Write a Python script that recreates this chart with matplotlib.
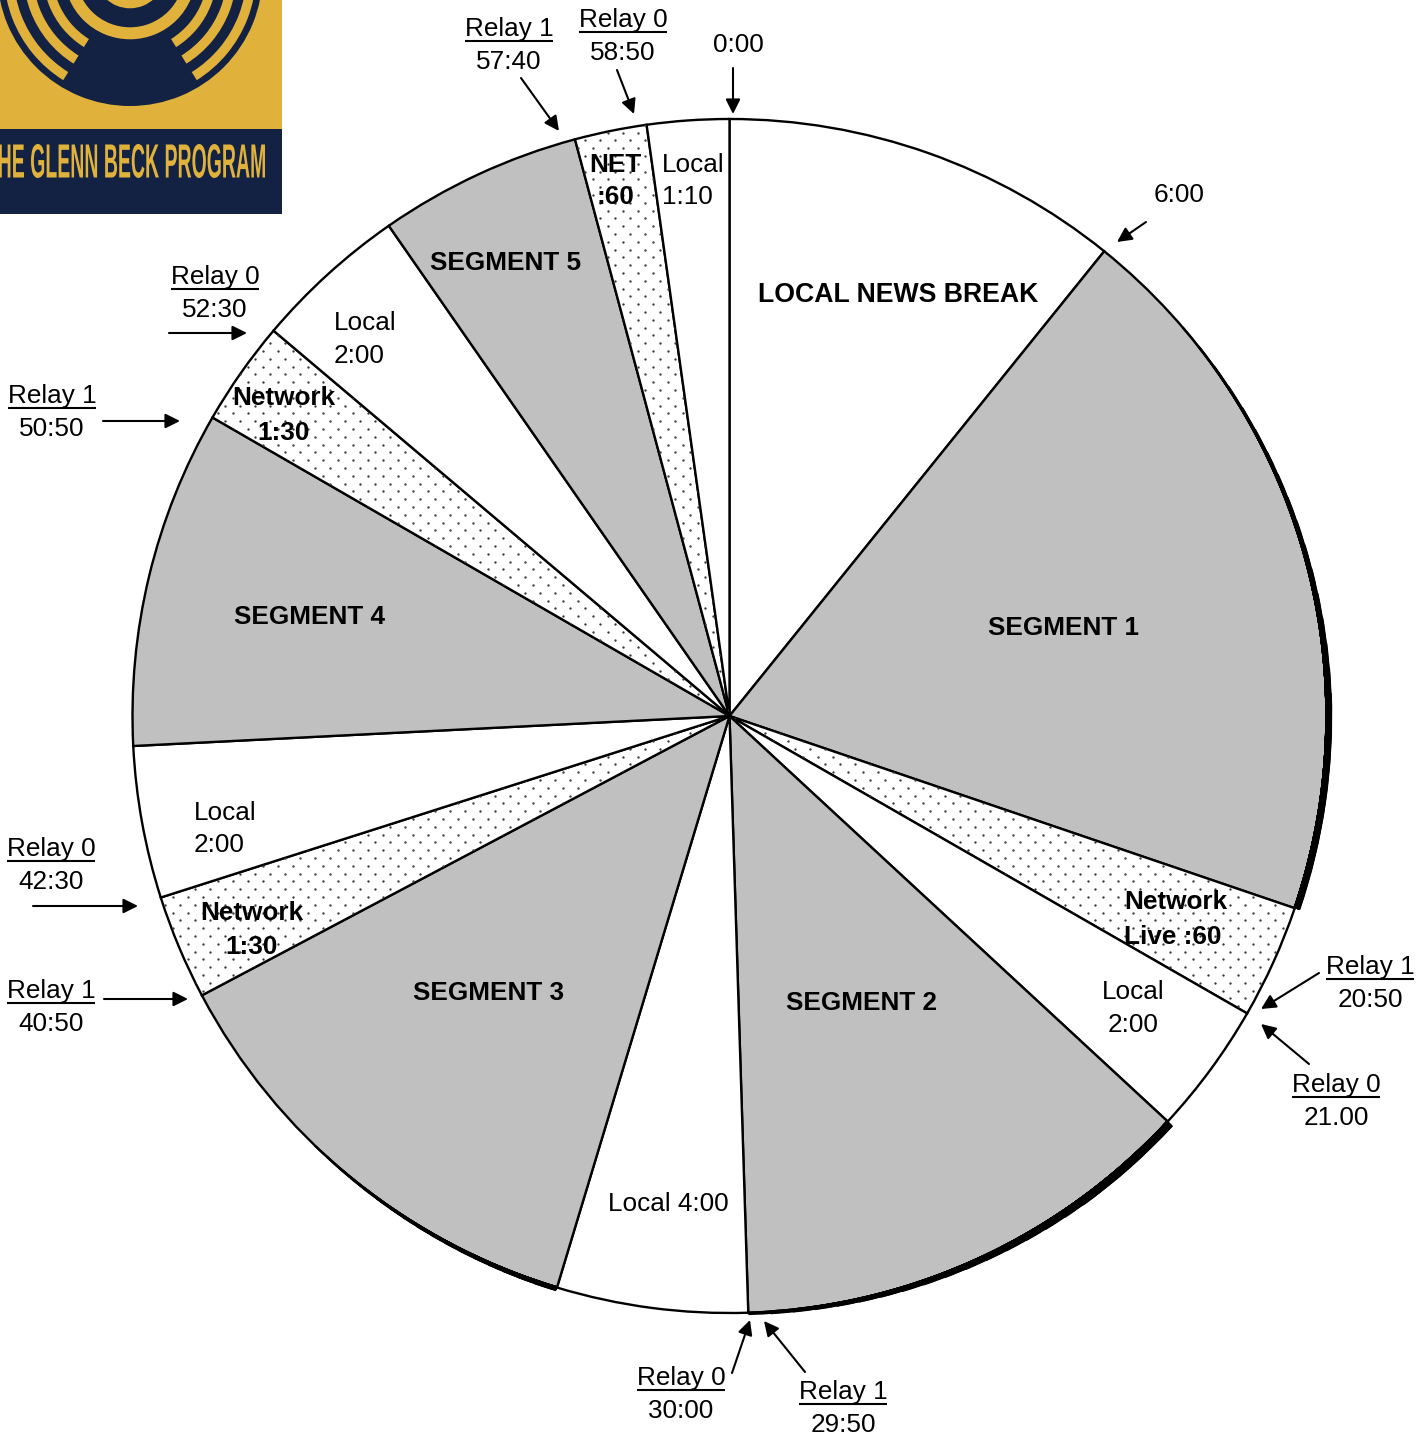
import numpy as np
import matplotlib
matplotlib.use('Agg')
import matplotlib.pyplot as plt
from matplotlib.patches import Rectangle, Wedge, Arc, PathPatch
from matplotlib.textpath import TextPath
from matplotlib.font_manager import FontProperties
from matplotlib.transforms import Affine2D

plt.rcParams['font.family'] = ['Liberation Sans', 'DejaVu Sans']

# ---------------- data ----------------
segment_labels = ['LOCAL NEWS BREAK', 'SEGMENT 1', 'Network\nLive :60', 'Local\n2:00',
                  'SEGMENT 2', 'Local 4:00', 'SEGMENT 3', 'Network\n1:30', 'Local\n2:00',
                  'SEGMENT 4', 'Network\n1:30', 'Local\n2:00', 'SEGMENT 5', 'NET\n:60',
                  'Local\n1:10']
segment_minutes = [6.48, 11.65, 1.85, 2.15, 7.57, 3.10, 7.55, 1.70, 2.47, 5.48,
                   1.70, 2.50, 3.30, 1.17, 1.33]
segment_kinds = ['local', 'segment', 'network', 'local', 'segment', 'local', 'segment',
                 'network', 'local', 'segment', 'network', 'local', 'segment', 'network',
                 'local']
relay_titles = ['Relay 1', 'Relay 0', 'Relay 0', 'Relay 1', 'Relay 0', 'Relay 1',
                'Relay 0', 'Relay 1', 'Relay 1', 'Relay 0']
relay_times = ['57:40', '58:50', '52:30', '50:50', '42:30', '40:50',
               '30:00', '29:50', '20:50', '21.00']
plain_marks = ['0:00', '6:00']
logo_text = 'HE GLENN BECK PROGRAM'

# ---------------- layout / style ----------------
W, H = 1428, 1435
CX, CY, R = 729.5, 716, 597
FS = 18.8
kind_color = {'local': 'white', 'segment': '#c0c0c0', 'network': 'white'}

# per-slice label placement: (x, [y per line], ha, bold, size)
label_layout = [
    (898, [293], 'center', True, 19.2),
    (1064, [626], 'center', True, FS),
    (1124, [900, 935], 'left', True, FS),
    (1133, [990, 1023], 'center', False, FS),
    (861, [1001], 'center', True, FS),
    (668, [1202], 'center', False, FS),
    (489, [991], 'center', True, FS),
    (252, [911, 945], 'center', True, FS),
    (194, [811, 843], 'left', False, FS),
    (310, [615], 'center', True, FS),
    (284, [396, 431], 'center', True, FS),
    (334, [321, 354], 'left', False, FS),
    (506, [261], 'center', True, FS),
    (615, [163, 195], 'center', True, FS),
    (662, [163, 195], 'left', False, FS),
]

# relay label placement: (x centre, title centre y, arrow start, arrow end)
relay_layout = [
    (509, 28, (521, 78), (559, 131)),
    (623, 19, (617, 70), (634, 114)),
    (215, 276, (169, 333), (247, 333)),
    (52, 395, (103, 421), (180, 421)),
    (51, 848, (33, 906), (138, 906)),
    (51, 990, (104, 999), (188, 999)),
    (681, 1377, (732, 1373), (750, 1320)),
    (843, 1391, (805, 1372), (764, 1321)),
    (1370, 966, (1319, 973), (1261, 1009)),
    (1336, 1084, (1309, 1064), (1261, 1024)),
]
plain_layout = [
    (738, 44, (733, 68), (733, 114)),
    (1179, 194, (1146, 222), (1117, 242)),
]

# tapered thick rims: (slice index, thin frac, full frac, thick end frac, lw thin, lw full)
rims = [
    (1, 0.15, 0.70, 1.0, 1.6, 5.0),
    (4, 1.00, 0.25, 0.0, 2.6, 6.0),
    (6, 0.60, 0.05, 0.0, 1.6, 3.6),
]

fig = plt.figure(figsize=(W / 100, H / 100), dpi=100)
ax = fig.add_axes([0, 0, 1, 1])

wedges, _ = ax.pie(segment_minutes, startangle=-90, counterclock=True,
                   center=(CX, CY), radius=R, frame=True,
                   colors=[kind_color[k] for k in segment_kinds],
                   wedgeprops=dict(edgecolor='black', linewidth=1.7))

ax.set_xlim(0, W)
ax.set_ylim(H, 0)
ax.set_aspect('auto')
ax.axis('off')

# dotted fill for network slices (staggered dot grid clipped to wedge)
dx, dy = 15.0, 7.8
rows = np.arange(0, H + dy, dy)
gx, gy = [], []
for i, yv in enumerate(rows):
    xs = np.arange(0, W + dx, dx) + (dx / 2 if i % 2 else 0)
    gx.append(xs)
    gy.append(np.full_like(xs, yv))
gx = np.concatenate(gx)
gy = np.concatenate(gy)
for w, k in zip(wedges, segment_kinds):
    if k == 'network':
        ln, = ax.plot(gx, gy, ls='none', marker='o', ms=1.7, mew=0,
                      color='#3a3a3a', zorder=2)
        ln.set_clip_path(w)

bounds = np.concatenate([[0], np.cumsum(segment_minutes)])


def ang(m):
    return -90 + 6 * m


def rim_arc(m0, m1, lw):
    a0, a1 = sorted([ang(m0), ang(m1)])
    off = max(lw * 100 / 72 / 2 - 1.2, 0)
    ax.add_patch(Arc((CX, CY), 2 * (R + off), 2 * (R + off), theta1=a0, theta2=a1,
                     lw=lw, color='black', capstyle='butt', zorder=5))


N = 16
for idx, f_thin, f_full, f_end, lw0, lw1 in rims:
    m_end = bounds[idx] + f_end * segment_minutes[idx]
    for k in range(N + 1):
        f = f_thin + (f_full - f_thin) * k / N
        m = bounds[idx] + f * segment_minutes[idx]
        rim_arc(m, m_end, lw0 + (lw1 - lw0) * k / N)

# slice labels
for text, (x, ys, ha, bold, fs) in zip(segment_labels, label_layout):
    for line, y in zip(text.split('\n'), ys):
        ax.text(x, y + 9, line, ha=ha, va='baseline', fontsize=fs,
                fontweight='bold' if bold else 'normal', color='black', zorder=6)

arrowprops = dict(arrowstyle='-|>', color='black', lw=1.5, mutation_scale=22,
                  shrinkA=0, shrinkB=0)

title_texts = []
for title, tm, (x, y, a0, a1) in zip(relay_titles, relay_times, relay_layout):
    t = ax.text(x, y + 8, title, ha='center', va='baseline', fontsize=FS)
    title_texts.append(t)
    ax.text(x, y + 41, tm, ha='center', va='baseline', fontsize=FS)
    ax.annotate('', xy=a1, xytext=a0, arrowprops=arrowprops)

for txt, (x, y, a0, a1) in zip(plain_marks, plain_layout):
    ax.text(x, y + 8, txt, ha='center', va='baseline', fontsize=FS)
    ax.annotate('', xy=a1, xytext=a0, arrowprops=arrowprops)

# underline relay titles
fig.canvas.draw()
renderer = fig.canvas.get_renderer()
inv = ax.transData.inverted()
for t in title_texts:
    bb = t.get_window_extent(renderer)
    (x0, _), (x1, _) = inv.transform([(bb.x0, bb.y0), (bb.x1, bb.y1)])
    yb = t.get_position()[1] + 4.5
    ax.plot([x0, x1], [yb, yb], color='black', lw=1.5, solid_capstyle='butt')

# ---------------- logo ----------------
yellow = '#E0B23C'
navy = '#132142'
ax.add_patch(Rectangle((0, 0), 282, 129, color=yellow, lw=0, zorder=8))
ax.add_patch(Rectangle((0, 129), 282, 85, color=navy, lw=0, zorder=8))
lc = (130, -26.7)
ax.add_patch(Wedge(lc, 132.7, 0, 360, color=navy, lw=0, zorder=9))
for r in [126.0, 106.5, 87.0]:
    ax.add_patch(Wedge(lc, r, 122, 418, width=9.5, color=yellow, lw=0, zorder=10))
ax.add_patch(Wedge(lc, 66, 0, 360, width=12, color=yellow, lw=0, zorder=10))
ax.add_patch(Wedge(lc, 35, 0, 360, color=yellow, lw=0, zorder=10))

fp = FontProperties(family='Liberation Sans', weight='bold')
tp = TextPath((0, 0), logo_text, size=1, prop=fp)
ext = tp.get_extents()
sx = 266 / ext.width
sy = 33.5 / ext.y1
tr = Affine2D().translate(-ext.x0, 0).scale(sx, -sy).translate(-1, 177.5)
ax.add_patch(PathPatch(tr.transform_path(tp), color=yellow, lw=0, zorder=11))

fig.savefig('out.png', dpi=100)
